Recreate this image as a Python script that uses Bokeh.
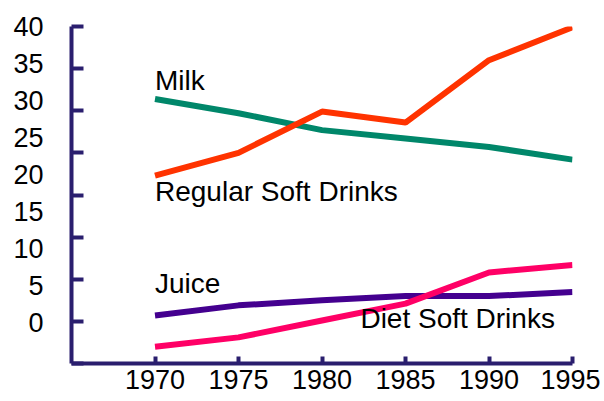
from bokeh.plotting import figure
from bokeh.models import LinearAxis, Range1d, FixedTicker
from bokeh.core.properties import value
from bokeh.embed import file_html
from bokeh.resources import INLINE

years = [1970, 1975, 1980, 1985, 1990, 1995]
milk = [31.4, 29.7, 27.7, 26.7, 25.7, 24.2]
regular_soft = [22.3, 25.0, 29.9, 28.6, 36.0, 39.9]
juice = [5.7, 6.9, 7.5, 8.0, 8.0, 8.5]
diet_soft = [2.0, 3.1, 5.1, 7.1, 10.8, 11.7]

y_ticks = [0, 5, 10, 15, 20, 25, 30, 35, 40]
x_ticks = [1970, 1975, 1980, 1985, 1990, 1995]

series_names = ["Milk", "Regular Soft Drinks", "Juice", "Diet Soft Drinks"]
label_x = [1970, 1970, 1970, 1982.3]
label_y = [33.6, 20.4, 9.5, 5.4]

colors = ["#00876A", "#FF3300", "#44008F", "#FF0066"]
axis_color = "#2A1E6E"
FONT = "Liberation Sans"

p = figure(width=600, height=397, output_backend="svg", toolbar_location=None,
           x_range=Range1d(1965, 1995), y_range=Range1d(0, 40),
           min_border_left=71, min_border_right=28, min_border_top=26, min_border_bottom=34)
p.outline_line_color = None
p.grid.visible = False
p.background_fill_color = "white"
p.border_fill_color = "white"

for vals, c in zip([milk, regular_soft, juice, diet_soft], colors):
    p.line(years, vals, line_color=c, line_width=6)

p.text(x=label_x, y=label_y, text=series_names, text_font=value(FONT),
       text_font_size="28px", text_color="black", text_baseline="alphabetic", text_align="left")

# x axis
xa = p.xaxis[0]
xa.ticker = FixedTicker(ticks=x_ticks)
xa.axis_line_color = axis_color
xa.axis_line_width = 4
xa.major_tick_line_color = axis_color
xa.major_tick_line_width = 4
xa.major_tick_in = 7
xa.major_tick_out = 0
xa.minor_tick_line_color = None
xa.major_label_text_font = FONT
xa.major_label_text_font_size = "27px"
xa.major_label_text_color = "black"
xa.major_label_standoff = 6

# y axis: ticks only
ya = p.yaxis[0]
ya.ticker = FixedTicker(ticks=y_ticks)
ya.axis_line_color = axis_color
ya.axis_line_width = 4
ya.major_tick_line_color = axis_color
ya.major_tick_line_width = 4
ya.major_tick_in = 12
ya.major_tick_out = 0
ya.minor_tick_line_color = None
ya.major_label_overrides = {t: "" for t in y_ticks}
ya.major_label_standoff = 0
ya.major_label_text_font_size = "1px"

# y labels axis (offset as in the reference)
p.extra_y_ranges = {"lab": Range1d(-5.54, 40)}
la = LinearAxis(y_range_name="lab", ticker=FixedTicker(ticks=y_ticks))
la.axis_line_color = None
la.major_tick_line_color = None
la.minor_tick_line_color = None
la.major_label_text_font = FONT
la.major_label_text_font_size = "27px"
la.major_label_text_color = "black"
la.major_label_standoff = 22
p.add_layout(la, "left")

open("out.html", "w").write(file_html(p, INLINE))
